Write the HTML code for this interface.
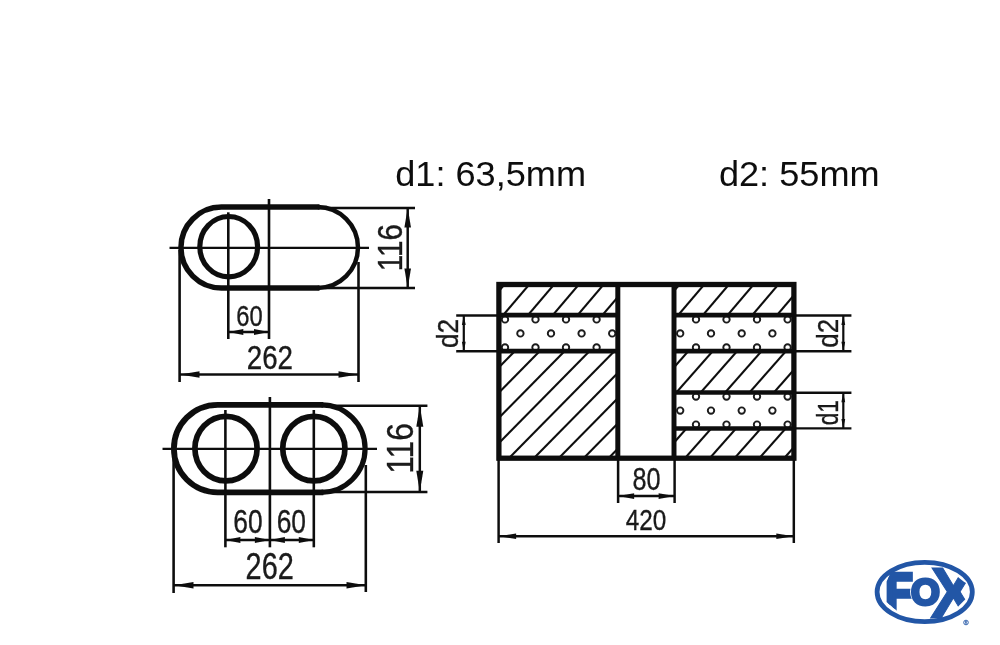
<!DOCTYPE html>
<html><head><meta charset="utf-8"><title>d1: 63,5mm d2: 55mm</title>
<style>
html,body{margin:0;padding:0;background:#fff;}
body{width:1000px;height:645px;overflow:hidden;}
svg{display:block;will-change:transform;font-family:"Liberation Sans",sans-serif;}
</style></head><body>
<svg width="1000" height="645" viewBox="0 0 1000 645">
<rect width="1000" height="645" fill="#fff"/>
<filter id="soft" x="0" y="0" width="1000" height="645" filterUnits="userSpaceOnUse"><feGaussianBlur stdDeviation="0.7"/></filter>
<filter id="soft2" x="0" y="0" width="1000" height="645" filterUnits="userSpaceOnUse"><feGaussianBlur stdDeviation="0.3"/></filter>
<g filter="url(#soft2)">
<text transform="translate(395.2,186.2) scale(1.045,1)" font-size="34.6" text-anchor="start" fill="#111" stroke="#111" stroke-width="0" font-weight="normal" >d1: 63,5mm</text>
<text transform="translate(718.9,186.4) scale(1.045,1)" font-size="34.6" text-anchor="start" fill="#111" stroke="#111" stroke-width="0" font-weight="normal" >d2: 55mm</text>
</g>
<g filter="url(#soft)">
<line x1="169.5" y1="247.8" x2="369" y2="247.8" stroke="#111" stroke-width="2.3" />
<line x1="269" y1="199" x2="269" y2="339" stroke="#111" stroke-width="2.6" />
<line x1="228.3" y1="212.3" x2="228.3" y2="339" stroke="#111" stroke-width="2.6" />
<line x1="179.6" y1="250" x2="179.6" y2="382" stroke="#111" stroke-width="2.6" />
<line x1="358.5" y1="262" x2="358.5" y2="382" stroke="#111" stroke-width="2.6" />
<line x1="228.3" y1="332" x2="269" y2="332" stroke="#111" stroke-width="2.5" />
<polygon points="228.30,332.00 243.30,329.00 243.30,335.00" fill="#111"/>
<polygon points="269.00,332.00 254.00,335.00 254.00,329.00" fill="#111"/>
<line x1="180" y1="374.5" x2="358" y2="374.5" stroke="#111" stroke-width="2.5" />
<polygon points="180.00,374.50 199.50,371.20 199.50,377.80" fill="#111"/>
<polygon points="358.00,374.50 338.50,377.80 338.50,371.20" fill="#111"/>
<line x1="318" y1="207.9" x2="415" y2="207.9" stroke="#111" stroke-width="2.5" />
<line x1="318" y1="288" x2="415" y2="288" stroke="#111" stroke-width="2.5" />
<line x1="407.7" y1="208" x2="407.7" y2="288" stroke="#111" stroke-width="2.5" />
<polygon points="407.70,208.00 411.00,227.50 404.40,227.50" fill="#111"/>
<polygon points="407.70,288.00 404.40,268.50 411.00,268.50" fill="#111"/>
<path d="M319.55,207.1 L221.35000000000002,207.1 A40.45,40.45 0 0 0 221.35000000000002,288 L319.55,288" fill="none" stroke="#111" stroke-width="5.5"/>
<path d="M317.55,288 A40.45,40.45 0 0 0 317.55,207.1" fill="none" stroke="#111" stroke-width="4.5"/>
<ellipse cx="228.7" cy="246.7" rx="28.9" ry="30.2" fill="none" stroke="#111" stroke-width="5.2"/>
<text transform="translate(249.4,325.7) scale(0.83,1)" font-size="28.6" text-anchor="middle" fill="#1a1a1a" stroke="#1a1a1a" stroke-width="0.35" font-weight="normal" >60</text>
<text transform="translate(269.9,369.2) scale(0.85,1)" font-size="32.6" text-anchor="middle" fill="#1a1a1a" stroke="#1a1a1a" stroke-width="0.35" font-weight="normal" >262</text>
<text transform="translate(402.4,247.6) rotate(-90) scale(0.845,1)" font-size="35" text-anchor="middle" fill="#1a1a1a" stroke="#1a1a1a" stroke-width="0.35" font-weight="normal" >116</text>
<line x1="162.5" y1="448.9" x2="377" y2="448.9" stroke="#111" stroke-width="2.3" />
<line x1="269.9" y1="397" x2="269.9" y2="547.3" stroke="#111" stroke-width="2.6" />
<line x1="225.4" y1="410" x2="225.4" y2="547.3" stroke="#111" stroke-width="2.6" />
<line x1="313.8" y1="410" x2="313.8" y2="547.3" stroke="#111" stroke-width="2.6" />
<line x1="173.6" y1="452" x2="173.6" y2="593" stroke="#111" stroke-width="2.6" />
<line x1="365.8" y1="465" x2="365.8" y2="592" stroke="#111" stroke-width="2.6" />
<line x1="225.4" y1="540" x2="269.9" y2="540" stroke="#111" stroke-width="2.5" />
<polygon points="225.40,540.00 240.40,536.90 240.40,543.10" fill="#111"/>
<polygon points="269.90,540.00 254.90,543.10 254.90,536.90" fill="#111"/>
<line x1="269.9" y1="540" x2="313.8" y2="540" stroke="#111" stroke-width="2.5" />
<polygon points="269.90,540.00 284.90,536.90 284.90,543.10" fill="#111"/>
<polygon points="313.80,540.00 298.80,543.10 298.80,536.90" fill="#111"/>
<line x1="174" y1="585.3" x2="366" y2="585.3" stroke="#111" stroke-width="2.5" />
<polygon points="174.00,585.30 193.50,582.00 193.50,588.60" fill="#111"/>
<polygon points="366.00,585.30 346.50,588.60 346.50,582.00" fill="#111"/>
<line x1="322" y1="405.8" x2="427.4" y2="405.8" stroke="#111" stroke-width="2.5" />
<line x1="322" y1="491.9" x2="427.4" y2="491.9" stroke="#111" stroke-width="2.5" />
<line x1="419.8" y1="405.8" x2="419.8" y2="491.8" stroke="#111" stroke-width="2.5" />
<polygon points="419.80,405.80 423.30,426.80 416.30,426.80" fill="#111"/>
<polygon points="419.80,491.80 416.30,470.80 423.30,470.80" fill="#111"/>
<path d="M323.35,404.8 L217.65,404.8 A43.75,43.75 0 0 0 217.65,492.3 L323.35,492.3" fill="none" stroke="#111" stroke-width="5.8"/>
<path d="M321.35,492.3 A43.75,43.75 0 0 0 321.35,404.8" fill="none" stroke="#111" stroke-width="5.2"/>
<ellipse cx="226" cy="448.6" rx="31.1" ry="32.3" fill="none" stroke="#111" stroke-width="5.7"/>
<ellipse cx="313.85" cy="448.6" rx="31.1" ry="32.3" fill="none" stroke="#111" stroke-width="5.7"/>
<text transform="translate(248,533.2) scale(0.8,1)" font-size="33" text-anchor="middle" fill="#1a1a1a" stroke="#1a1a1a" stroke-width="0.35" font-weight="normal" >60</text>
<text transform="translate(291.3,533.2) scale(0.8,1)" font-size="33" text-anchor="middle" fill="#1a1a1a" stroke="#1a1a1a" stroke-width="0.35" font-weight="normal" >60</text>
<text transform="translate(269.7,579.2) scale(0.785,1)" font-size="36.8" text-anchor="middle" fill="#1a1a1a" stroke="#1a1a1a" stroke-width="0.35" font-weight="normal" >262</text>
<text transform="translate(412.8,448.4) rotate(-90) scale(0.84,1)" font-size="37.8" text-anchor="middle" fill="#1a1a1a" stroke="#1a1a1a" stroke-width="0.35" font-weight="normal" >116</text>
<defs>
<clipPath id="h1"><rect x="498.9" y="284.5" width="118.89999999999998" height="30.69999999999999"/></clipPath>
<clipPath id="h2"><rect x="498.9" y="351.2" width="118.89999999999998" height="107.0"/></clipPath>
<clipPath id="h3"><rect x="674.0" y="284.5" width="119.89999999999998" height="30.69999999999999"/></clipPath>
<clipPath id="h4"><rect x="674.0" y="351.2" width="119.89999999999998" height="41.30000000000001"/></clipPath>
<clipPath id="h5"><rect x="674.0" y="428.5" width="119.89999999999998" height="29.69999999999999"/></clipPath>
<clipPath id="t1"><rect x="498.9" y="315.2" width="118.89999999999998" height="36.0"/></clipPath>
<clipPath id="t2"><rect x="674.0" y="315.2" width="119.89999999999998" height="36.0"/></clipPath>
<clipPath id="t3"><rect x="674.0" y="392.5" width="119.89999999999998" height="36.0"/></clipPath>
</defs>
<g clip-path="url(#h1)" stroke="#111" stroke-width="2.1">
<line x1="516.75" y1="270" x2="346.75" y2="470"/>
<line x1="541.55" y1="270" x2="371.55" y2="470"/>
<line x1="566.35" y1="270" x2="396.35" y2="470"/>
<line x1="591.15" y1="270" x2="421.15" y2="470"/>
<line x1="615.95" y1="270" x2="445.95" y2="470"/>
<line x1="640.75" y1="270" x2="470.75" y2="470"/>
<line x1="665.55" y1="270" x2="495.55" y2="470"/>
</g>
<g clip-path="url(#h2)" stroke="#111" stroke-width="2.1">
<line x1="594.74" y1="270" x2="397.74" y2="470"/>
<line x1="619.64" y1="270" x2="422.64" y2="470"/>
<line x1="644.54" y1="270" x2="447.54" y2="470"/>
<line x1="669.44" y1="270" x2="472.44" y2="470"/>
<line x1="694.34" y1="270" x2="497.34" y2="470"/>
<line x1="719.24" y1="270" x2="522.24" y2="470"/>
<line x1="744.14" y1="270" x2="547.14" y2="470"/>
<line x1="769.04" y1="270" x2="572.04" y2="470"/>
<line x1="793.94" y1="270" x2="596.94" y2="470"/>
<line x1="818.84" y1="270" x2="621.84" y2="470"/>
</g>
<g clip-path="url(#h3)" stroke="#111" stroke-width="2.1">
<line x1="691.85" y1="270" x2="521.85" y2="470"/>
<line x1="716.55" y1="270" x2="546.55" y2="470"/>
<line x1="741.25" y1="270" x2="571.25" y2="470"/>
<line x1="765.95" y1="270" x2="595.95" y2="470"/>
<line x1="790.65" y1="270" x2="620.65" y2="470"/>
<line x1="815.35" y1="270" x2="645.35" y2="470"/>
<line x1="840.05" y1="270" x2="670.05" y2="470"/>
</g>
<g clip-path="url(#h4)" stroke="#111" stroke-width="2.1">
<line x1="759.73" y1="270" x2="583.73" y2="470"/>
<line x1="784.13" y1="270" x2="608.13" y2="470"/>
<line x1="808.53" y1="270" x2="632.53" y2="470"/>
<line x1="832.93" y1="270" x2="656.93" y2="470"/>
<line x1="857.33" y1="270" x2="681.33" y2="470"/>
<line x1="881.73" y1="270" x2="705.73" y2="470"/>
<line x1="906.13" y1="270" x2="730.13" y2="470"/>
</g>
<g clip-path="url(#h5)" stroke="#111" stroke-width="2.1">
<line x1="826.70" y1="270" x2="649.70" y2="470"/>
<line x1="851.50" y1="270" x2="674.50" y2="470"/>
<line x1="876.29" y1="270" x2="699.29" y2="470"/>
<line x1="901.10" y1="270" x2="724.10" y2="470"/>
<line x1="925.89" y1="270" x2="748.89" y2="470"/>
<line x1="950.70" y1="270" x2="773.70" y2="470"/>
<line x1="975.50" y1="270" x2="798.50" y2="470"/>
</g>
<g clip-path="url(#t1)" fill="#fff" stroke="#1a1a1a" stroke-width="1.9">
<circle cx="505" cy="319.4" r="3.2"/>
<circle cx="505" cy="347.4" r="3.2"/>
<circle cx="535.5" cy="319.4" r="3.2"/>
<circle cx="535.5" cy="347.4" r="3.2"/>
<circle cx="566" cy="319.4" r="3.2"/>
<circle cx="566" cy="347.4" r="3.2"/>
<circle cx="596.6" cy="319.4" r="3.2"/>
<circle cx="596.6" cy="347.4" r="3.2"/>
<circle cx="520.4" cy="333.4" r="3.2"/>
<circle cx="551" cy="333.4" r="3.2"/>
<circle cx="581.6" cy="333.4" r="3.2"/>
<circle cx="612.2" cy="333.4" r="3.2"/>
</g>
<g clip-path="url(#t2)" fill="#fff" stroke="#1a1a1a" stroke-width="1.9">
<circle cx="696" cy="319.4" r="3.2"/>
<circle cx="696" cy="347.4" r="3.2"/>
<circle cx="726.5" cy="319.4" r="3.2"/>
<circle cx="726.5" cy="347.4" r="3.2"/>
<circle cx="757" cy="319.4" r="3.2"/>
<circle cx="757" cy="347.4" r="3.2"/>
<circle cx="787.6" cy="319.4" r="3.2"/>
<circle cx="787.6" cy="347.4" r="3.2"/>
<circle cx="680.2" cy="333.4" r="3.2"/>
<circle cx="711" cy="333.4" r="3.2"/>
<circle cx="741.7" cy="333.4" r="3.2"/>
<circle cx="772.4" cy="333.4" r="3.2"/>
</g>
<g clip-path="url(#t3)" fill="#fff" stroke="#1a1a1a" stroke-width="1.9">
<circle cx="696" cy="396.6" r="3.2"/>
<circle cx="696" cy="424.6" r="3.2"/>
<circle cx="726.5" cy="396.6" r="3.2"/>
<circle cx="726.5" cy="424.6" r="3.2"/>
<circle cx="757" cy="396.6" r="3.2"/>
<circle cx="757" cy="424.6" r="3.2"/>
<circle cx="787.6" cy="396.6" r="3.2"/>
<circle cx="787.6" cy="424.6" r="3.2"/>
<circle cx="680.2" cy="410.6" r="3.2"/>
<circle cx="711" cy="410.6" r="3.2"/>
<circle cx="741.7" cy="410.6" r="3.2"/>
<circle cx="772.4" cy="410.6" r="3.2"/>
</g>
<rect x="498.9" y="284.5" width="295.0" height="173.7" fill="none" stroke="#111" stroke-width="5.3"/>
<line x1="617.8" y1="284.5" x2="617.8" y2="458.2" stroke="#111" stroke-width="5" />
<line x1="674.0" y1="284.5" x2="674.0" y2="458.2" stroke="#111" stroke-width="5" />
<line x1="498.9" y1="315.2" x2="617.8" y2="315.2" stroke="#111" stroke-width="4.7" />
<line x1="498.9" y1="351.2" x2="617.8" y2="351.2" stroke="#111" stroke-width="4.7" />
<line x1="674.0" y1="315.2" x2="793.9" y2="315.2" stroke="#111" stroke-width="4.7" />
<line x1="674.0" y1="351.2" x2="793.9" y2="351.2" stroke="#111" stroke-width="4.7" />
<line x1="674.0" y1="392.5" x2="793.9" y2="392.5" stroke="#111" stroke-width="4.7" />
<line x1="674.0" y1="428.5" x2="793.9" y2="428.5" stroke="#111" stroke-width="4.7" />
<line x1="456.2" y1="315.5" x2="497" y2="315.5" stroke="#111" stroke-width="2.4" />
<line x1="456.2" y1="351.2" x2="497" y2="351.2" stroke="#111" stroke-width="2.4" />
<line x1="463.8" y1="315.4" x2="463.8" y2="351.2" stroke="#111" stroke-width="2.2" />
<polygon points="463.80,315.40 465.70,324.90 461.90,324.90" fill="#111"/>
<polygon points="463.80,351.20 461.90,341.70 465.70,341.70" fill="#111"/>
<line x1="796" y1="315.5" x2="851.4" y2="315.5" stroke="#111" stroke-width="2.4" />
<line x1="796" y1="351.2" x2="851.4" y2="351.2" stroke="#111" stroke-width="2.4" />
<line x1="843.3" y1="315.4" x2="843.3" y2="351.2" stroke="#111" stroke-width="2.2" />
<polygon points="843.30,315.40 845.20,324.90 841.40,324.90" fill="#111"/>
<polygon points="843.30,351.20 841.40,341.70 845.20,341.70" fill="#111"/>
<line x1="796" y1="392.8" x2="851.4" y2="392.8" stroke="#111" stroke-width="2.4" />
<line x1="796" y1="428.4" x2="851.4" y2="428.4" stroke="#111" stroke-width="2.4" />
<line x1="843.3" y1="392.8" x2="843.3" y2="428.4" stroke="#111" stroke-width="2.2" />
<polygon points="843.30,392.80 845.20,402.30 841.40,402.30" fill="#111"/>
<polygon points="843.30,428.40 841.40,418.90 845.20,418.90" fill="#111"/>
<text transform="translate(458.4,333.5) rotate(-90) scale(0.89,1)" font-size="29.5" text-anchor="middle" fill="#1a1a1a" stroke="#1a1a1a" stroke-width="0.35" font-weight="normal" >d2</text>
<text transform="translate(838.2,333.3) rotate(-90) scale(0.88,1)" font-size="29.5" text-anchor="middle" fill="#1a1a1a" stroke="#1a1a1a" stroke-width="0.35" font-weight="normal" >d2</text>
<text transform="translate(838.2,412.7) rotate(-90) scale(0.77,1)" font-size="29.5" text-anchor="middle" fill="#1a1a1a" stroke="#1a1a1a" stroke-width="0.35" font-weight="normal" >d1</text>
<line x1="618.1" y1="460" x2="618.1" y2="503" stroke="#111" stroke-width="2.5" />
<line x1="674.6" y1="460" x2="674.6" y2="503" stroke="#111" stroke-width="2.5" />
<line x1="618.1" y1="496.1" x2="674.6" y2="496.1" stroke="#111" stroke-width="2.5" />
<polygon points="618.10,496.10 634.10,493.20 634.10,499.00" fill="#111"/>
<polygon points="674.60,496.10 658.60,499.00 658.60,493.20" fill="#111"/>
<line x1="498.6" y1="460" x2="498.6" y2="543" stroke="#111" stroke-width="2.5" />
<line x1="793.8" y1="460" x2="793.8" y2="543" stroke="#111" stroke-width="2.5" />
<line x1="498.6" y1="536.2" x2="793.8" y2="536.2" stroke="#111" stroke-width="2.5" />
<polygon points="498.60,536.20 516.10,533.40 516.10,539.00" fill="#111"/>
<polygon points="793.80,536.20 776.30,539.00 776.30,533.40" fill="#111"/>
<text transform="translate(646.4,489.7) scale(0.8,1)" font-size="31.5" text-anchor="middle" fill="#1a1a1a" stroke="#1a1a1a" stroke-width="0.35" font-weight="normal" >80</text>
<text transform="translate(646,530) scale(0.8,1)" font-size="30.4" text-anchor="middle" fill="#1a1a1a" stroke="#1a1a1a" stroke-width="0.35" font-weight="normal" >420</text>
<ellipse cx="924.7" cy="592" rx="47.6" ry="29.7" fill="#fff" stroke="#2356a6" stroke-width="4.8"/>
<clipPath id="cx"><polygon points="920,555 942,555 942.6,564.9 963.9,581.7 972,587 972,594 964.4,600.3 944,620.7 944,626 920,626"/></clipPath>
<clipPath id="cf"><polygon points="893.3,568 916,568 916,614 897.8,614 897.8,611.6 886.5,602.1 886.5,581.6"/></clipPath>
<g clip-path="url(#cx)">
<text transform="translate(953.3,617.5) scale(0.97,1)" font-size="72.2" text-anchor="middle" fill="#2356a6" stroke="#2356a6" stroke-width="1" stroke-linejoin="miter" font-weight="bold">X</text>
</g>
<g clip-path="url(#cf)">
<text transform="translate(898.9,609.3) scale(0.9,1)" font-size="49.6" text-anchor="middle" fill="#2356a6" stroke="#2356a6" stroke-width="4.4" stroke-linejoin="miter" font-weight="bold">F</text>
</g>
<ellipse cx="925.5" cy="591.5" rx="15.4" ry="16.2" fill="#fff"/>
<text transform="translate(925.5,604.6) scale(1.03,1)" font-size="36" text-anchor="middle" fill="#2356a6" stroke="#2356a6" stroke-width="3" stroke-linejoin="miter" font-weight="bold">O</text>
<circle cx="966" cy="622.5" r="2.3" fill="none" stroke="#2356a6" stroke-width="0.9"/>
<text x="966" y="623.9" font-size="3.6" text-anchor="middle" fill="#2356a6" font-weight="bold">R</text>
</g>
</svg>
</body></html>
